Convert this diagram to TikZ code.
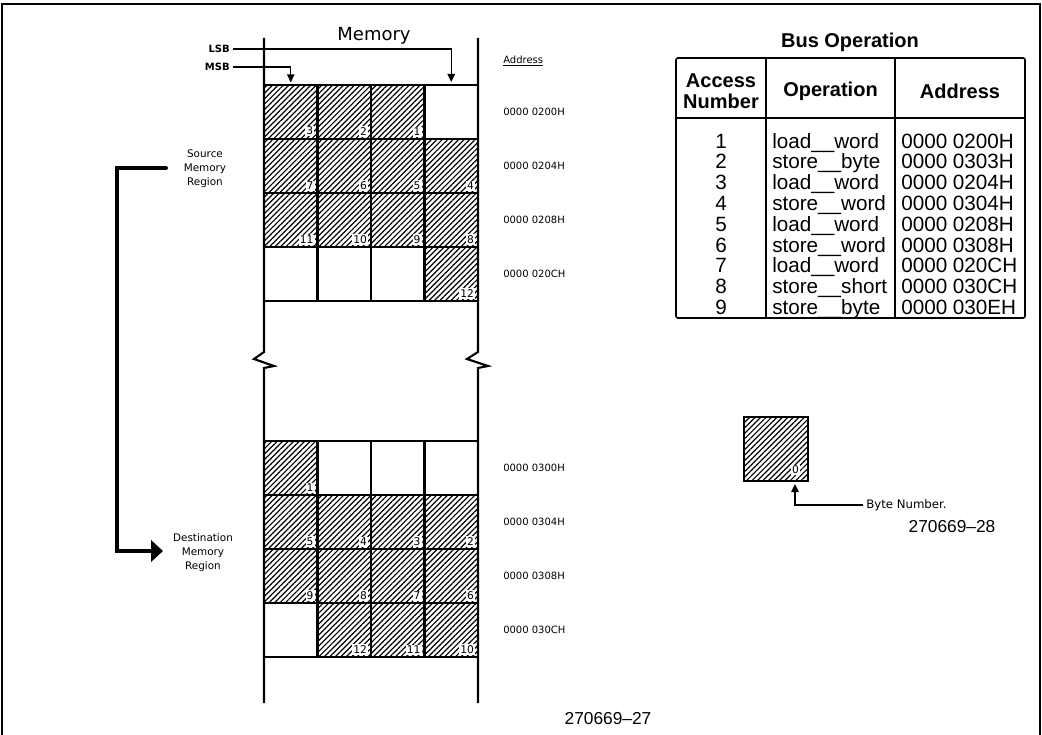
\documentclass[tikz,border=0pt]{standalone}
\usepackage{fontspec}
\setmainfont{Liberation Sans}
\newfontfamily\draftfont{DejaVu Sans}
\usetikzlibrary{positioning,arrows.meta,calc,patterns.meta}

\begin{document}
\begin{tikzpicture}[x=0.75pt, y=-0.75pt,
    every node/.style={inner sep=0pt},
    wall/.style={line width=1.6pt},
    cell/.style={draw, line width=1.5pt, minimum width=40.1pt,
                 minimum height=40.5pt, inner sep=0pt},
    hatched/.style={cell, pattern={Lines[angle=45, distance=2.9pt, line width=0.9pt]}},
    cellnum/.style={font=\draftfont\fontsize{8}{9}\selectfont, fill=white,
                    inner sep=0.9pt, anchor=south east},
    addr/.style={font=\draftfont\fontsize{7.5}{9}\selectfont, anchor=west},
    ptr/.style={line width=1.1pt, -{Triangle[length=6pt, width=5.5pt]}},
    regionarrow/.style={line width=3pt, -{Triangle[length=9pt, width=16pt]}},
    region/.style={font=\draftfont\fontsize{7.8}{10.5}\selectfont, align=center},
    tblhead/.style={font=\bfseries\fontsize{15}{15.75}\selectfont, align=center},
    tbltext/.style={font=\fontsize{15.5}{18}\selectfont},
  ]
  \useasboundingbox (0,0) rectangle (1042,735);
  % Frame
  \draw[line width=1.2pt] (2,735) -- (2,4) -- (1040,4) -- (1040,735);

  % Memory walls with break marks
  \draw[wall] (264,38) -- (264,352) -- (254,359) -- (274,366) -- (264,368) -- (264,703);
  \draw[wall] (478,38) -- (478,352) -- (467,359) -- (488,366) -- (478,368) -- (478,703);
  \node[font=\draftfont\fontsize{13.5}{15}\selectfont] (memtitle) at (374,36) {Memory};

  % Source memory region
  \foreach \c/\r in {3/0,0/3,1/3,2/3}
    \node[cell] (src-\c-\r) at ({290.75+53.5*\c},{112+54*\r}) {};
  \foreach \c/\r/\n in {0/0/3,1/0/2,2/0/1,0/1/7,1/1/6,2/1/5,3/1/4,
                        0/2/11,1/2/10,2/2/9,3/2/8,3/3/12} {
    \node[hatched] (src-\c-\r) at ({290.75+53.5*\c},{112+54*\r}) {};
    \node[cellnum] at ($(src-\c-\r.south east)+(-3.5,-3)$) {\n};
  }

  % Destination memory region
  \foreach \c/\r in {1/0,2/0,3/0,0/3}
    \node[cell] (dst-\c-\r) at ({290.75+53.5*\c},{468+54*\r}) {};
  \foreach \c/\r/\n in {0/0/1,0/1/5,1/1/4,2/1/3,3/1/2,
                        0/2/9,1/2/8,2/2/7,3/2/6,1/3/12,2/3/11,3/3/10} {
    \node[hatched] (dst-\c-\r) at ({290.75+53.5*\c},{468+54*\r}) {};
    \node[cellnum] at ($(dst-\c-\r.south east)+(-3.5,-3)$) {\n};
  }

  % LSB / MSB pointers
  \node[font=\draftfont\bfseries\fontsize{7.5}{9}\selectfont, anchor=east] (lsb) at (230,49) {LSB};
  \node[font=\draftfont\bfseries\fontsize{7.5}{9}\selectfont, anchor=east] (msb) at (230,67) {MSB};
  \draw[ptr, shorten <=2pt, shorten >=1.5pt] (lsb.east) -| (src-3-0.north);
  \draw[ptr, shorten <=2pt, shorten >=1.5pt] (msb.east) -| (src-0-0.north);

  % Addresses
  \node[addr] (addrhead) at (503,61) {\underline{Address}};
  \foreach \r/\a in {0/0200H,1/0204H,2/0208H,3/020CH}
    \node[addr] (addr-\a) at (503,{112+54*\r}) {0000 \a};
  \foreach \r/\a in {0/0300H,1/0304H,2/0308H,3/030CH}
    \node[addr] (addr-\a) at (503,{468+54*\r}) {0000 \a};

  % Source -> destination arrow
  \node[region] (srclbl) at (205,169) {Source\\Memory\\Region};
  \node[region] (dstlbl) at (203,553) {Destination\\Memory\\Region};
  \coordinate (srcend) at (166,168);
  \coordinate (dstend) at (163,551);
  \draw[regionarrow, line cap=round] (srcend) -- ++(-49,0) |- (dstend);

  % Bus operation table
  \node[font=\bfseries\fontsize{15}{18}\selectfont] (busop) at (850,42) {Bus Operation};
  \draw[line width=1.2pt, rounded corners=1.5pt] (676,58) rectangle (1025,318);
  \draw[line width=1pt] (766,58) -- (766,318) (895,58) -- (895,318) (676,118) -- (1025,118);
  \node[tblhead] (hacc) at (721,91) {Access\\Number};
  \node[tblhead] (hop) at (830.5,91) {Operation};
  \node[tblhead] (hadr) at (960,91) {Address};
  \foreach \i/\op/\ad in {1/load\_\_word/0200H, 2/store\_\_byte/0303H,
                          3/load\_\_word/0204H, 4/store\_\_word/0304H,
                          5/load\_\_word/0208H, 6/store\_\_word/0308H,
                          7/load\_\_word/020CH, 8/store\_\_short/030CH,
                          9/store\_\_byte/030EH} {
    \node[tbltext, anchor=base] (acc\i) at (721,{148+20.8*(\i-1)}) {\i};
    \node[tbltext, anchor=base west] (op\i) at (772,{148+20.8*(\i-1)}) {\op};
    \node[tbltext, anchor=base west] (adr\i) at (901,{148+20.8*(\i-1)}) {0000 \ad};
  }

  % Byte number legend
  \node[draw, line width=1.9pt, minimum size=48pt,
        pattern={Lines[angle=45, distance=2.9pt, line width=0.9pt]}] (bytebox) at (776,449) {};
  \node[cellnum] at ($(bytebox.south east)+(-9,-7)$) {0};
  \node[font=\draftfont\fontsize{8.8}{10}\selectfont, anchor=west] (bytelbl) at (866,505) {Byte Number.};
  \coordinate (bytetip) at (795,484);
  \draw[ptr, shorten <=2pt] (bytelbl.west) -| (bytetip);
  \node[font=\fontsize{13}{15}\selectfont] (fig28) at (952,527) {270669--28};

  \node[font=\fontsize{13}{15}\selectfont] (fig27) at (608,719) {270669--27};
\end{tikzpicture}
\end{document}
